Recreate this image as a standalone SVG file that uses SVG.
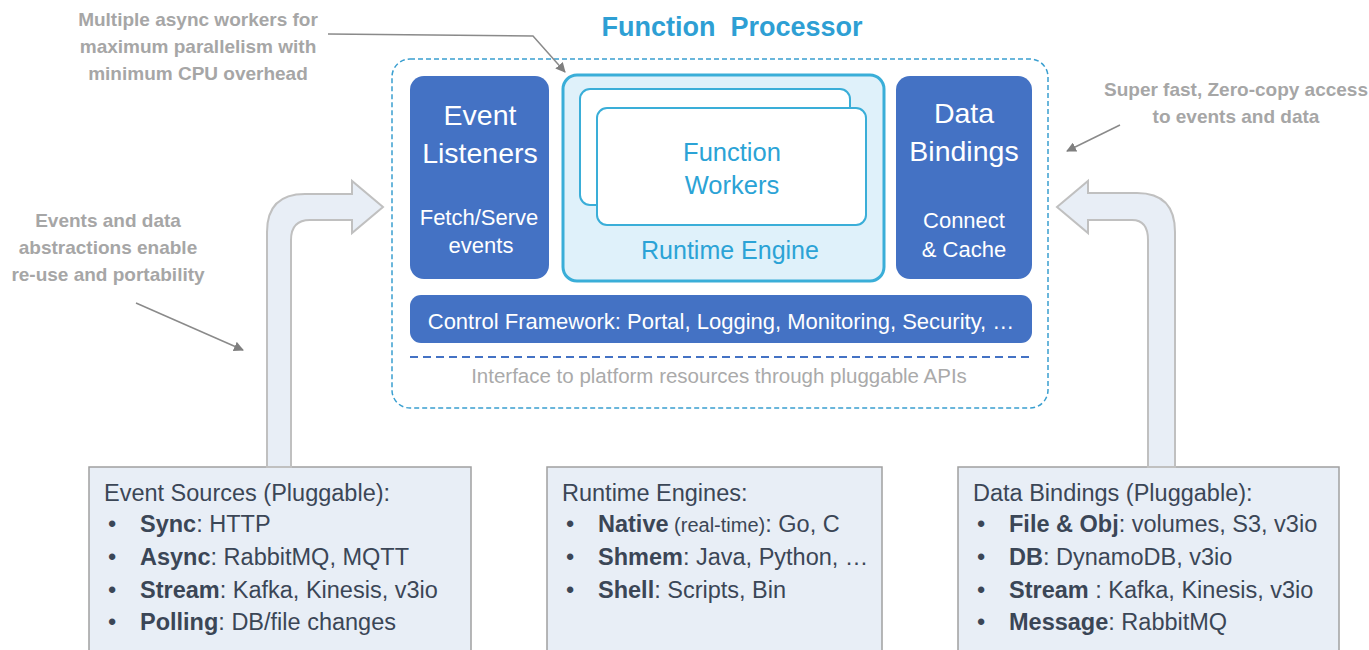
<svg xmlns="http://www.w3.org/2000/svg" width="1369" height="650" viewBox="0 0 1369 650">
<style>
.note{font-family:"Liberation Sans",Arial,sans-serif;font-size:19px;fill:#a6a6a6;font-weight:bold;text-anchor:middle}
.wbig{font-family:"Liberation Sans",Arial,sans-serif;font-size:28.5px;fill:#ffffff;text-anchor:middle}
.wsm{font-family:"Liberation Sans",Arial,sans-serif;font-size:22px;fill:#ffffff;text-anchor:middle}
.cyan{font-family:"Liberation Sans",Arial,sans-serif;fill:#2ba3d6;text-anchor:middle}
.list{font-family:"Liberation Sans",Arial,sans-serif;font-size:23.5px;fill:#3b4656}
.list tspan.b{font-weight:bold}
.blue{fill:#4472c4}
.card{fill:#ffffff;stroke:#3aaed8;stroke-width:2}
.src{fill:#e8eef6;stroke:#a0a0a0;stroke-width:1.5}
.bigarrow{fill:#e8eef6;stroke:#c0c0c0;stroke-width:2}
.thin{fill:none;stroke:#8a8a8a;stroke-width:1.5}
</style>
<defs>
<marker id="ah" viewBox="0 0 10 10" refX="9" refY="5" markerWidth="10" markerHeight="10" markerUnits="userSpaceOnUse" orient="auto">
<path d="M0,0 L10,5 L0,10 z" fill="#7f7f7f"/>
</marker>
</defs>
<rect width="1369" height="650" fill="#ffffff"/>

<g id="title">
<text x="732" y="36" font-family="Liberation Sans,Arial,sans-serif" font-size="27" font-weight="bold" fill="#2e9fd4" text-anchor="middle" xml:space="preserve">Function  Processor</text>
</g>

<g id="notes">
<text class="note" x="198" y="26">Multiple async workers for</text>
<text class="note" x="198" y="53">maximum parallelism with</text>
<text class="note" x="198" y="80">minimum CPU overhead</text>
<text class="note" x="108" y="227">Events and data</text>
<text class="note" x="108" y="254">abstractions enable</text>
<text class="note" x="108" y="281">re-use and portability</text>
<text class="note" x="1236" y="96" font-size="18.5">Super fast, Zero-copy access</text>
<text class="note" x="1236" y="123" font-size="18.5">to events and data</text>
</g>

<g id="function-processor">
<rect x="392" y="59" width="656" height="349" rx="18" fill="#ffffff" stroke="#3a9fd0" stroke-width="1.5" stroke-dasharray="5,3"/>
<line x1="410" y1="357" x2="1032" y2="357" stroke="#4472c4" stroke-width="2" stroke-dasharray="8,5"/>
<text x="719" y="383" font-family="Liberation Sans,Arial,sans-serif" font-size="20.5" fill="#aaaaaa" text-anchor="middle">Interface to platform resources through pluggable APIs</text>
</g>

<g id="event-listeners">
<rect class="blue" x="410" y="76" width="139" height="203" rx="14"/>
<text class="wbig" x="480" y="125">Event</text>
<text class="wbig" x="480" y="163">Listeners</text>
<text class="wsm" x="479" y="225">Fetch/Serve</text>
<text class="wsm" x="481" y="253">events</text>
</g>

<g id="runtime-engine">
<rect x="563" y="75" width="321" height="206" rx="14" fill="#dff1fa" stroke="#3aaed8" stroke-width="3"/>
<rect class="card" x="580" y="89" width="270" height="116" rx="10"/>
<rect class="card" x="597" y="108" width="269" height="117" rx="10"/>
<text class="cyan" x="732" y="161" font-size="25.5">Function</text>
<text class="cyan" x="732" y="194" font-size="25.5">Workers</text>
<text class="cyan" x="730" y="259" font-size="25">Runtime Engine</text>
</g>

<g id="data-bindings">
<rect class="blue" x="896" y="76" width="136" height="203" rx="14"/>
<text class="wbig" x="964" y="123">Data</text>
<text class="wbig" x="964" y="161">Bindings</text>
<text class="wsm" x="964" y="228">Connect</text>
<text class="wsm" x="964" y="257">&amp; Cache</text>
</g>

<g id="control-framework">
<rect class="blue" x="410" y="295" width="622" height="48" rx="11"/>
<text class="wsm" x="721" y="329" font-size="22">Control Framework: Portal, Logging, Monitoring, Security, …</text>
</g>

<g id="event-sources">
<rect class="src" x="89" y="467" width="382" height="200"/>
<text class="list" x="104" y="501">Event Sources (Pluggable):</text>
<text class="list" x="108" y="532">•</text><text class="list" x="140" y="532"><tspan class="b">Sync</tspan>: HTTP</text>
<text class="list" x="108" y="565">•</text><text class="list" x="140" y="565"><tspan class="b">Async</tspan>: RabbitMQ, MQTT</text>
<text class="list" x="108" y="598">•</text><text class="list" x="140" y="598"><tspan class="b">Stream</tspan>: Kafka, Kinesis, v3io</text>
<text class="list" x="108" y="630">•</text><text class="list" x="140" y="630"><tspan class="b">Polling</tspan>: DB/file changes</text>
</g>

<g id="runtime-engines">
<rect class="src" x="547" y="467" width="335" height="200"/>
<text class="list" x="562" y="501">Runtime Engines:</text>
<text class="list" x="566" y="532">•</text><text class="list" x="598" y="532"><tspan class="b">Native</tspan><tspan font-size="20"> (real-time)</tspan>: Go, C</text>
<text class="list" x="566" y="565">•</text><text class="list" x="598" y="565"><tspan class="b">Shmem</tspan>: Java, Python, …</text>
<text class="list" x="566" y="598">•</text><text class="list" x="598" y="598"><tspan class="b">Shell</tspan>: Scripts, Bin</text>
</g>

<g id="data-bindings-list">
<rect class="src" x="958" y="467" width="381" height="200"/>
<text class="list" x="973" y="501">Data Bindings (Pluggable):</text>
<text class="list" x="977" y="532">•</text><text class="list" x="1009" y="532"><tspan class="b">File &amp; Obj</tspan>: volumes, S3, v3io</text>
<text class="list" x="977" y="565">•</text><text class="list" x="1009" y="565"><tspan class="b">DB</tspan>: DynamoDB, v3io</text>
<text class="list" x="977" y="598">•</text><text class="list" x="1009" y="598"><tspan class="b">Stream</tspan> : Kafka, Kinesis, v3io</text>
<text class="list" x="977" y="630">•</text><text class="list" x="1009" y="630"><tspan class="b">Message</tspan>: RabbitMQ</text>
</g>

<g id="connectors">
<path class="bigarrow" d="M267,467 L267,232 Q267,194 305,194 L352,194 L352,181 L383,207 L352,233 L352,220 L310,220 Q291,220 291,240 L291,467 Z"/>
<path class="bigarrow" d="M1175,467 L1175,232 Q1175,193 1137,193 L1088,193 L1088,181 L1057,207 L1088,233 L1088,220 L1132,220 Q1148,220 1148,240 L1148,467 Z"/>
<polyline class="thin" points="328,34 533,36 565,72" marker-end="url(#ah)"/>
<line class="thin" x1="136" y1="303" x2="243" y2="350" marker-end="url(#ah)"/>
<line class="thin" x1="1120" y1="125" x2="1067" y2="151" marker-end="url(#ah)"/>
</g>
</svg>
